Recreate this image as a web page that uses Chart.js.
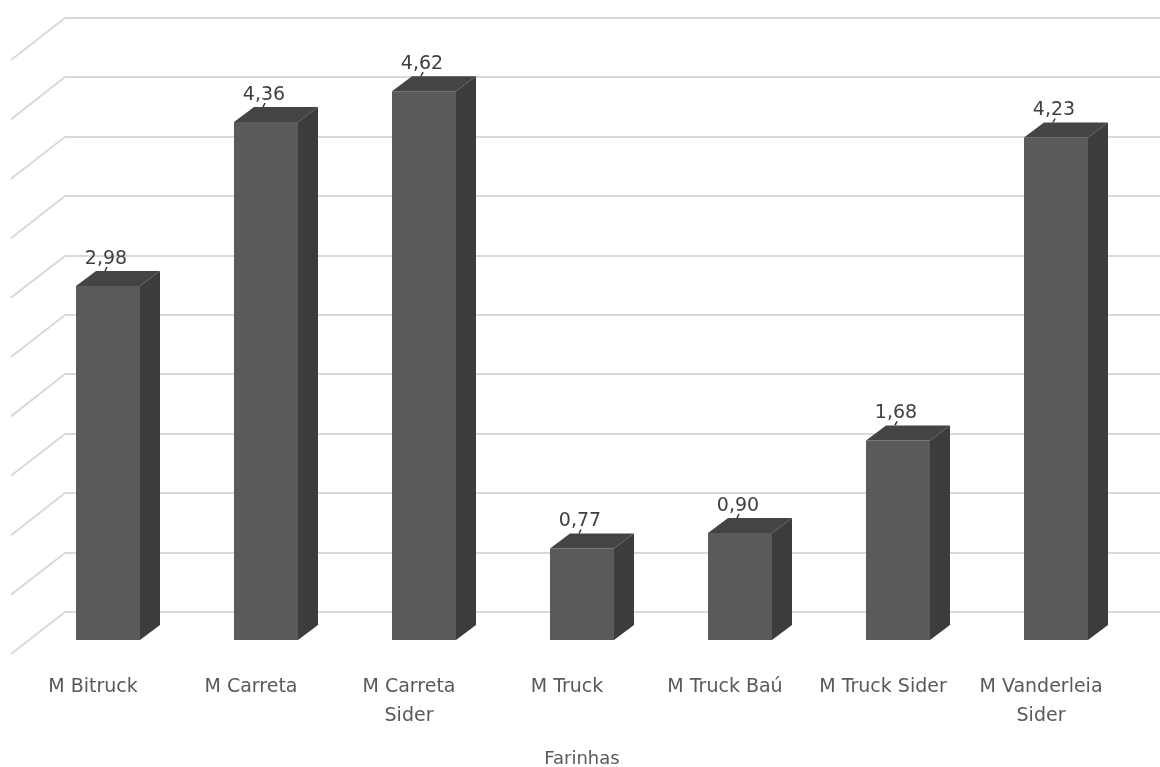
<!DOCTYPE html>
<html>
<head>
<meta charset="utf-8">
<title>Farinhas</title>
<script src="https://cdn.jsdelivr.net/npm/chart.js@4/dist/chart.umd.min.js"></script>
<style>
  html, body { margin: 0; padding: 0; background: #ffffff; }
  #wrap { width: 1160px; height: 767px; position: relative; }
</style>
</head>
<body>
<div id="wrap"><canvas id="chart"></canvas></div>
<script>
// Categories (multi-line labels as arrays)
const categories = [
  ['M Bitruck'],
  ['M Carreta'],
  ['M Carreta', 'Sider'],
  ['M Truck'],
  ['M Truck Baú'],
  ['M Truck Sider'],
  ['M Vanderleia', 'Sider']
];
const values = [2.98, 4.36, 4.62, 0.77, 0.90, 1.68, 4.23];
const axisTitle = 'Farinhas';
const yMax = 5;
const yStep = 0.5;

// 3D look: bar extrusion, back wall and floor-front offsets (pixels)
const BAR_DEPTH = { dx: 20, dy: -15 };
const BACK_WALL = { dx: 36, dy: -28 };
const FLOOR_FRONT = { dx: -18, dy: 14 };

const FONT = 'DejaVu Sans';
const fmt = v => v.toFixed(2).replace('.', ',');

function poly(ctx, pts) {
  ctx.beginPath();
  ctx.moveTo(pts[0][0], pts[0][1]);
  for (let i = 1; i < pts.length; i++) ctx.lineTo(pts[i][0], pts[i][1]);
  ctx.closePath();
  ctx.fill();
}

const depth3d = {
  id: 'depth3d',
  beforeDatasetsDraw(chart) {
    const { ctx, chartArea, scales: { y } } = chart;
    ctx.save();
    ctx.strokeStyle = '#d9d9d9';
    ctx.lineWidth = 2;
    ctx.lineJoin = 'round';
    for (let v = 0; v <= yMax + 1e-9; v += yStep) {
      const py = y.getPixelForValue(v);
      const bx = chartArea.left + BACK_WALL.dx;
      const by = Math.round(py + BACK_WALL.dy);
      ctx.beginPath();
      ctx.moveTo(chartArea.left + FLOOR_FRONT.dx, py + FLOOR_FRONT.dy);
      ctx.lineTo(bx, by);
      ctx.lineTo(chart.width, by);
      ctx.stroke();
    }
    ctx.restore();
  },
  afterDatasetsDraw(chart) {
    const { ctx } = chart;
    const meta = chart.getDatasetMeta(0);
    ctx.save();
    meta.data.forEach((bar, i) => {
      const { x, y, base, width } = bar.getProps(['x', 'y', 'base', 'width'], true);
      const l = x - width / 2, r = x + width / 2;
      const dx = BAR_DEPTH.dx, dy = BAR_DEPTH.dy;
      // side face
      ctx.fillStyle = '#3c3c3c';
      poly(ctx, [[r, y], [r + dx, y + dy], [r + dx, base + dy], [r, base]]);
      // top face
      ctx.fillStyle = '#444444';
      poly(ctx, [[l, y], [l + dx, y + dy], [r + dx, y + dy], [r, y]]);
      // value label with a short leader
      const ly = y + dy - 12;
      ctx.strokeStyle = '#3a3a3a';
      ctx.lineWidth = 1.5;
      ctx.beginPath();
      ctx.moveTo(x - 3, y + dy);
      ctx.lineTo(x - 1, ly + 8);
      ctx.stroke();
      ctx.fillStyle = '#404040';
      ctx.font = '19px "' + FONT + '"';
      ctx.textAlign = 'center';
      ctx.textBaseline = 'middle';
      ctx.fillText(fmt(values[i]), x - 2, ly);
    });
    ctx.restore();
  }
};

new Chart(document.getElementById('chart'), {
  type: 'bar',
  data: {
    labels: categories,
    datasets: [{
      data: values,
      backgroundColor: '#5a5a5a',
      borderWidth: 0,
      categoryPercentage: 1,
      barPercentage: 0.405
    }]
  },
  options: {
    responsive: true,
    maintainAspectRatio: false,
    animation: false,
    layout: { padding: { left: 29, right: 25, top: 46, bottom: 0 } },
    plugins: { legend: { display: false }, tooltip: { enabled: false } },
    scales: {
      y: {
        display: false,
        min: 0,
        max: yMax,
        ticks: { stepSize: yStep }
      },
      x: {
        grid: { display: false, drawTicks: false },
        border: { display: false },
        ticks: {
          color: '#595959',
          font: { family: FONT, size: 19, lineHeight: 1.5 },
          padding: 33,
          labelOffset: -15,
          maxRotation: 0,
          autoSkip: false
        },
        title: {
          display: true,
          text: axisTitle,
          color: '#595959',
          font: { family: FONT, size: 18, lineHeight: 1.0 },
          padding: { top: 0, bottom: -1 }
        },
        afterFit(scale) { scale.height = 127; }
      }
    }
  },
  plugins: [depth3d]
});
</script>
</body>
</html>
